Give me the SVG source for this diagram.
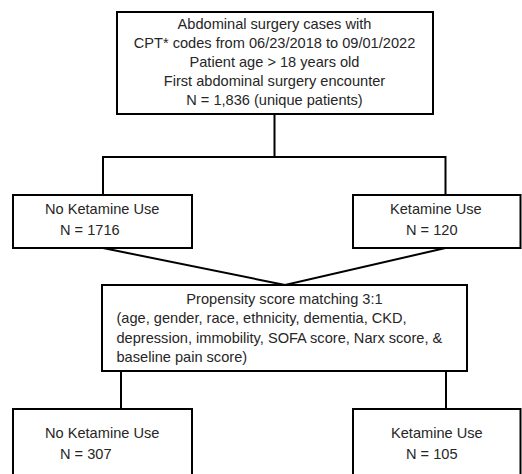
<svg xmlns="http://www.w3.org/2000/svg" width="522" height="474" viewBox="0 0 522 474">
<style>
.box{fill:#fff;stroke:#000;stroke-width:2}
.ln{fill:none;stroke:#000;stroke-width:2}
text{font-family:"Liberation Sans",Arial,sans-serif;font-size:14.6px;fill:#262626}
.c{text-anchor:middle}
</style>
<rect width="522" height="474" fill="#fff"/>
<g id="connectors">
<path class="ln" d="M274.5,114 V157 M103,157 H445.5 M103,156 V195 M445.5,156 V195"/>
<path class="ln" d="M103,248 L285,285 L445.5,248"/>
<path class="ln" d="M121,371 V409 M446,371 V409"/>
</g>
<g id="top">
<rect class="box" x="117" y="12" width="316" height="102"/>
<text class="c" x="274.5" y="28.5">Abdominal surgery cases with</text>
<text class="c" x="274.5" y="47.7">CPT* codes from 06/23/2018 to 09/01/2022</text>
<text class="c" x="274.5" y="66.9">Patient age &gt; 18 years old</text>
<text class="c" x="274.5" y="86.1">First abdominal surgery encounter</text>
<text class="c" x="274.5" y="105.3">N = 1,836 (unique patients)</text>
</g>
<g id="noket1">
<rect class="box" x="13" y="195" width="179" height="53"/>
<text x="45" y="214.3">No Ketamine Use</text>
<text x="60" y="235">N = 1716</text>
</g>
<g id="ket1">
<rect class="box" x="353" y="195" width="167.5" height="53"/>
<text x="390" y="214.3">Ketamine Use</text>
<text x="406" y="235">N = 120</text>
</g>
<g id="psm">
<rect class="box" x="102" y="285" width="365" height="86"/>
<text class="c" x="284.5" y="304">Propensity score matching 3:1</text>
<text x="116.5" y="323.3">(age, gender, race, ethnicity, dementia, CKD,</text>
<text x="116.5" y="342.6">depression, immobility, SOFA score, Narx score, &amp;</text>
<text x="116.5" y="362">baseline pain score)</text>
</g>
<g id="noket2">
<rect class="box" x="13" y="409" width="179" height="80"/>
<text x="45" y="438">No Ketamine Use</text>
<text x="60" y="459">N = 307</text>
</g>
<g id="ket2">
<rect class="box" x="353" y="409" width="167.5" height="80"/>
<text x="391" y="438">Ketamine Use</text>
<text x="406" y="459">N = 105</text>
</g>
</svg>
